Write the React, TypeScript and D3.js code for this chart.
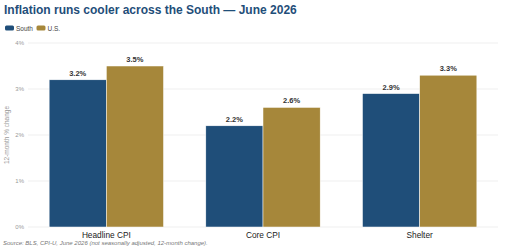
import React, { useRef, useEffect } from 'react';
import * as d3 from 'd3';

const categories = ['Headline CPI', 'Core CPI', 'Shelter'];
const seriesNames = ['South', 'U.S.'];
const southValues = [3.2, 2.2, 2.9];
const usValues = [3.5, 2.6, 3.3];
const yTicks = [0, 1, 2, 3, 4];

const colors = ['#1f4e79', '#a6873a'];
const width = 509;
const height = 250;

const App = () => {
  const svgRef = useRef<SVGSVGElement>(null);

  useEffect(() => {
    const svg = d3.select(svgRef.current);
    svg.selectAll('*').remove();

    const margin = { top: 43, right: 11, bottom: 23, left: 28 };
    const innerW = width - margin.left - margin.right;
    const innerH = height - margin.top - margin.bottom;
    const font = 'Liberation Sans, Arial, sans-serif';

    const x0 = d3.scaleBand().domain(categories).range([0, innerW]).paddingInner(0.27).paddingOuter(0.135);
    const x1 = d3.scaleBand().domain(seriesNames).range([0, x0.bandwidth()]);
    const y = d3.scaleLinear().domain([0, 4]).range([innerH, 0]);

    // title
    svg.append('text')
      .attr('x', 4).attr('y', 14)
      .attr('font-family', font).attr('font-size', 12).attr('font-weight', 'bold')
      .attr('fill', '#1f4e79')
      .text('Inflation runs cooler across the South — June 2026');

    // legend
    const legend = svg.append('g').attr('transform', 'translate(5,25)');
    let lx = 0;
    seriesNames.forEach((name, i) => {
      legend.append('rect').attr('x', lx).attr('y', 0.5).attr('width', 9).attr('height', 5).attr('rx', 1.5).attr('fill', colors[i]);
      const t = legend.append('text').attr('x', lx + 11).attr('y', 5.5)
        .attr('font-family', font).attr('font-size', 6.5).attr('fill', '#444').text(name);
      lx += 11 + (t.node() as SVGTextElement).getComputedTextLength() + 3.5;
    });

    const g = svg.append('g').attr('transform', `translate(${margin.left},${margin.top})`);

    // grid and y ticks
    g.selectAll('line.grid').data(yTicks).enter().append('line')
      .attr('x1', 0).attr('x2', innerW)
      .attr('y1', d => y(d)).attr('y2', d => y(d))
      .attr('stroke', '#ebebeb').attr('stroke-width', 0.8);
    g.selectAll('text.tick').data(yTicks).enter().append('text')
      .attr('x', -4).attr('y', d => y(d) + 2)
      .attr('text-anchor', 'end')
      .attr('font-family', font).attr('font-size', 6).attr('fill', '#999')
      .text(d => `${d}%`);

    // y axis title
    svg.append('text')
      .attr('transform', `translate(9,${margin.top + innerH / 2}) rotate(-90)`)
      .attr('text-anchor', 'middle')
      .attr('font-family', font).attr('font-size', 6.5).attr('fill', '#999')
      .text('12-month % change');

    const rows = categories.map((c, i) => ({ cat: c, values: [southValues[i], usValues[i]] }));

    const groups = g.selectAll('g.grp').data(rows).enter().append('g')
      .attr('transform', d => `translate(${x0(d.cat)},0)`);

    groups.selectAll('rect').data(d => d.values.map((v, i) => ({ key: seriesNames[i], v, i }))).enter().append('rect')
      .attr('x', d => x1(d.key)!)
      .attr('y', d => y(d.v))
      .attr('width', x1.bandwidth())
      .attr('height', d => innerH - y(d.v))
      .attr('fill', d => colors[d.i])
      .attr('stroke', '#ffffff').attr('stroke-width', 0.5);

    groups.selectAll('text.val').data(d => d.values.map((v, i) => ({ key: seriesNames[i], v }))).enter().append('text')
      .attr('x', d => x1(d.key)! + x1.bandwidth() / 2)
      .attr('y', d => y(d.v) - 4)
      .attr('text-anchor', 'middle')
      .attr('font-family', font).attr('font-size', 7.5).attr('font-weight', 'bold').attr('fill', '#333')
      .text(d => `${d.v.toFixed(1)}%`);

    // category labels
    g.selectAll('text.cat').data(categories).enter().append('text')
      .attr('x', d => x0(d)! + x0.bandwidth() / 2)
      .attr('y', innerH + 11)
      .attr('text-anchor', 'middle')
      .attr('font-family', font).attr('font-size', 8.3).attr('fill', '#222')
      .text(d => d);

    // source note
    svg.append('text')
      .attr('x', 3).attr('y', 245)
      .attr('font-family', font).attr('font-size', 6).attr('font-style', 'italic').attr('fill', '#777')
      .text('Source: BLS, CPI-U, June 2026 (not seasonally adjusted, 12-month change).');
  }, []);

  return (
    <div style={{ position: 'fixed', left: 0, top: 0, width, height, background: '#fff' }}>
      <svg ref={svgRef} width={width} height={height}></svg>
    </div>
  );
};

export default App;
